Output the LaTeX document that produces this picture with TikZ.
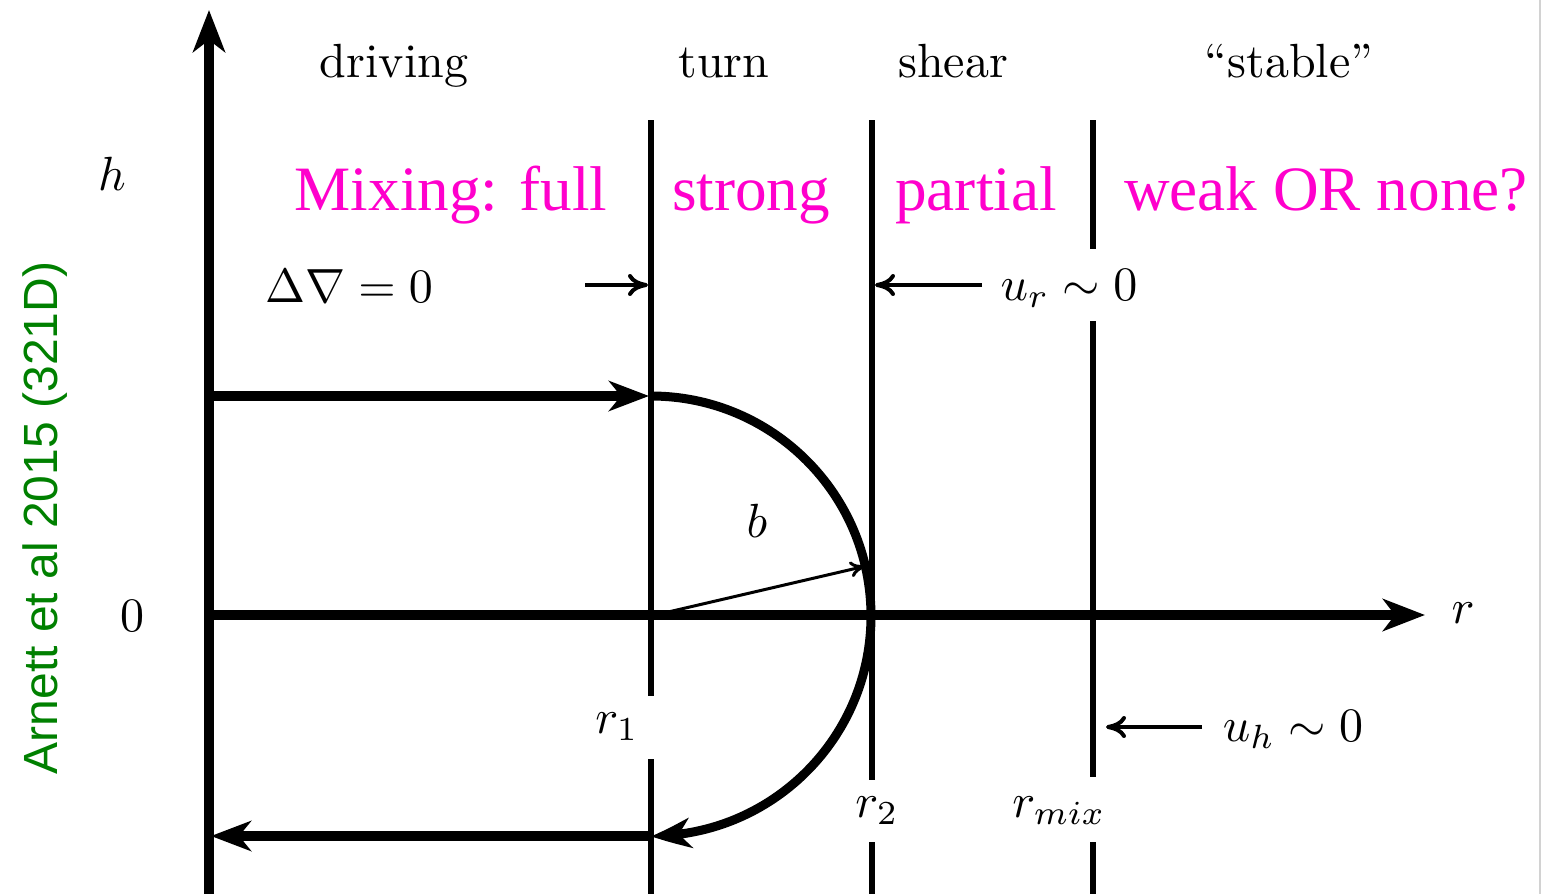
\RequirePackage{fix-cm}
\documentclass[tikz,border=0pt]{standalone}
\usepackage{graphicx}
\usepackage{fontspec}
\newfontfamily\magfont{Liberation Serif}
\newfontfamily\grfont{Liberation Sans}
\usetikzlibrary{arrows.meta,bending}
\definecolor{mag}{RGB}{255,0,204}
\definecolor{grn}{RGB}{0,128,0}
\newcommand{\cmlab}[1]{\scalebox{2.4}{\fontsize{10}{12}\selectfont #1}}
\tikzset{
  lbl/.style={inner sep=0pt, anchor=base},
  maglbl/.style={font=\magfont\fontsize{31.6}{36}\selectfont, text=mag, inner sep=0pt, anchor=base},
  axisline/.style={line width=5pt, -{Stealth[length=21pt,width=16pt,inset=6pt]}},
  flowline/.style={line width=5pt, -{Stealth[length=20pt,width=15pt,inset=6pt]}},
  arcline/.style={line width=4.5pt, -{Stealth[length=20pt,width=15pt,inset=6pt,bend]}},
  vline/.style={line width=2.8pt},
  markarrow/.style={line width=2pt, -{Computer Modern Rightarrow[length=10pt,width=11pt]}},
  radline/.style={line width=1.5pt, -{Computer Modern Rightarrow[length=8pt,width=8pt]}},
}
\begin{document}
\begin{tikzpicture}[x=0.5pt,y=-0.5pt]
\useasboundingbox (0,0) rectangle (1542,894);
% right border
\draw[gray!35, line width=0.6pt] (1540,0) -- (1540,894);

% key coordinates
\coordinate (hbot) at (209,894);
\coordinate (htop) at (209,10);
\coordinate (O) at (209,615);
\coordinate (rend) at (1425,615);
\coordinate (C) at (651,616);
\coordinate (arctop) at (651,396);
\coordinate (arcbot) at (651,836);
\coordinate (flowstart) at (209,396);
\coordinate (flowend) at (211,836);
\coordinate (bend) at (866,566);

% vertical region lines
\coordinate (v1a) at (651,120); \coordinate (v1b) at (651,696);
\coordinate (v1c) at (651,759); \coordinate (v1d) at (651,894);
\coordinate (v2a) at (872,120); \coordinate (v2b) at (872,780);
\coordinate (v2c) at (872,842); \coordinate (v2d) at (872,894);
\coordinate (v3a) at (1093,120); \coordinate (v3b) at (1093,249);
\coordinate (v3c) at (1093,321); \coordinate (v3d) at (1093,777);
\coordinate (v3e) at (1093,842); \coordinate (v3f) at (1093,894);
\draw[vline] (v1a) -- (v1b) (v1c) -- (v1d);
\draw[vline] (v2a) -- (v2b) (v2c) -- (v2d);
\draw[vline] (v3a) -- (v3b) (v3c) -- (v3d) (v3e) -- (v3f);

% axes
\draw[axisline] (hbot) -- (htop);
\draw[axisline] (O) -- (rend);

% flow
\draw[flowline] (flowstart) -- (649,396);
\draw[arcline] (arctop) arc[start angle=-90, end angle=90, radius=220];
\draw[flowline] (arcbot) -- (flowend);
\draw[radline] (C) -- (bend);

% marker arrows
\coordinate (dva) at (585,285); \coordinate (dvb) at (648,285);
\coordinate (ura) at (982,285); \coordinate (urb) at (875,285);
\coordinate (uha) at (1202,727); \coordinate (uhb) at (1106,727);
\draw[markarrow] (dva) -- (dvb);
\draw[markarrow] (ura) -- (urb);
\draw[markarrow] (uha) -- (uhb);

% black labels
\node[lbl] (ldriving) at (394,77) {\cmlab{driving}};
\node[lbl] (lturn) at (724,77) {\cmlab{turn}};
\node[lbl] (lshear) at (953,77) {\cmlab{shear}};
\node[lbl] (lstable) at (1289,77) {\cmlab{``stable''}};
\node[lbl] (lh) at (112,190) {\cmlab{$h$}};
\node[lbl] (lzero) at (132,631) {\cmlab{$0$}};
\node[lbl] (lr) at (1463,623) {\cmlab{$r$}};
\node[lbl] (ldv) at (349,302) {\cmlab{$\Delta\nabla = 0$}};
\node[lbl] (lur) at (1069,300) {\cmlab{$u_r \sim 0$}};
\node[lbl] (luh) at (1293,741) {\cmlab{$u_h \sim 0$}};
\node[lbl] (lb) at (757,537) {\cmlab{$b$}};
\node[lbl] (lr1) at (617,733) {\cmlab{$r_1$}};
\node[lbl] (lr2) at (877,817) {\cmlab{$r_2$}};
\node[lbl] (lrmix) at (1059,817) {\cmlab{$r_{mix}$}};

% magenta labels
\node[maglbl] (mfull) at (451,210) {Mixing: full};
\node[maglbl] (mstrong) at (751,210) {strong};
\node[maglbl] (mpartial) at (976,210) {partial};
\node[maglbl] (mweak) at (1326,210) {weak OR none?};

% green side note
\node[rotate=90, anchor=base, inner sep=0pt, font=\grfont\fontsize{24}{28}\selectfont, text=grn] (note) at (57,518) {Arnett et al 2015 (321D)};
\end{tikzpicture}
\end{document}
